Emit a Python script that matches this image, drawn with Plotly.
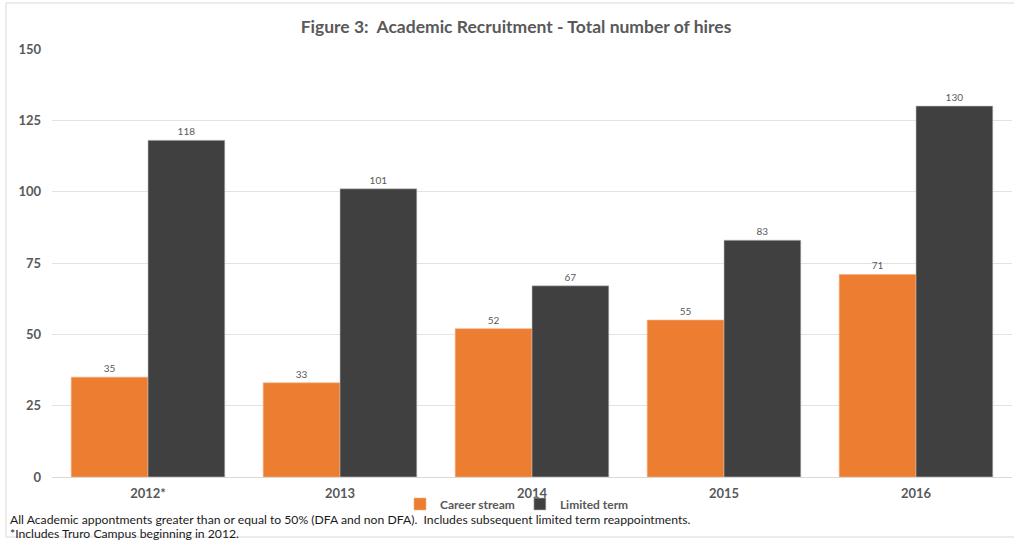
import plotly.graph_objects as go

# Academic hires by year
years = ["2012*", "2013", "2014", "2015", "2016"]
career_stream = [35, 33, 52, 55, 71]
limited_term = [118, 101, 67, 83, 130]
y_ticks = [0, 25, 50, 75, 100, 125, 150]

FONT = "Lato"
ORANGE = "#ED7D31"
DARK = "#404040"
GREY_TEXT = "#595959"

fig = go.Figure()
fig.add_trace(go.Bar(
    name="Career stream", x=years, y=career_stream,
    marker=dict(color=ORANGE, line=dict(color="#F4B183", width=0.6)),
    text=career_stream, textposition="outside",
    textfont=dict(family=FONT, size=10, color=GREY_TEXT),
    cliponaxis=False,
))
fig.add_trace(go.Bar(
    name="Limited term", x=years, y=limited_term,
    marker=dict(color=DARK, line=dict(color="#BFBFBF", width=0.6)),
    text=limited_term, textposition="outside",
    textfont=dict(family=FONT, size=10, color=GREY_TEXT),
    cliponaxis=False,
))

fig.update_layout(
    width=1014, height=540,
    margin=dict(l=52, r=2, t=49, b=63),
    paper_bgcolor="white", plot_bgcolor="white",
    barmode="group", bargap=0.2, bargroupgap=0,
    font=dict(family=FONT, color=GREY_TEXT),
    title=dict(
        text="<b>Figure 3:\u00a0 Academic Recruitment - Total number of hires</b>",
        x=(516 - 52) / 960, xref="paper", xanchor="center",
        y=1 - 27 / 540, yanchor="middle",
        font=dict(family=FONT, size=17.5, color=GREY_TEXT),
    ),
    xaxis=dict(
        showgrid=False, showline=True, linecolor="#D9D9D9", linewidth=1,
        ticks="", tickfont=dict(family=FONT, size=13, color=GREY_TEXT, weight="bold"),
        ticklabelstandoff=4,
    ),
    yaxis=dict(
        range=[0, 150], tickvals=y_ticks, showgrid=True, gridcolor="#E3E3E3",
        gridwidth=1, zeroline=False, showline=False, ticks="",
        tickfont=dict(family=FONT, size=13, color=GREY_TEXT, weight="bold"),
        ticklabelstandoff=10,
    ),
    legend=dict(
        orientation="h", x=(517 - 52) / 960, xanchor="center",
        y=-(504 - 477) / 428, yanchor="middle",
        font=dict(family=FONT, size=12, color=GREY_TEXT, weight="bold"),
        itemwidth=30, bgcolor="rgba(0,0,0,0)", tracegroupgap=0,
    ),
    showlegend=True,
)

# Footnotes
fig.add_annotation(
    text="All Academic appontments greater than or equal to 50% (DFA and non DFA).\u00a0 Includes subsequent limited term reappointments.",
    xref="paper", yref="paper", x=-44 / 960, y=-(519 - 477) / 428,
    xanchor="left", yanchor="middle", showarrow=False,
    font=dict(family=FONT, size=12.2, color="#1a1a1a"),
)
fig.add_annotation(
    text="*Includes Truro Campus beginning in 2012.",
    xref="paper", yref="paper", x=-44 / 960, y=-(533.5 - 477) / 428,
    xanchor="left", yanchor="middle", showarrow=False,
    font=dict(family=FONT, size=12.2, color="#1a1a1a"),
)

# Chart frame (runs past the right edge of the page)
fig.add_shape(
    type="rect", xref="paper", yref="paper",
    x0=-46 / 960, x1=1.05, y0=-(537 - 477) / 428, y1=1 + 46 / 428,
    line=dict(color="#D9D9D9", width=1), fillcolor="rgba(0,0,0,0)", layer="below",
)

fig.write_html("out.html")
